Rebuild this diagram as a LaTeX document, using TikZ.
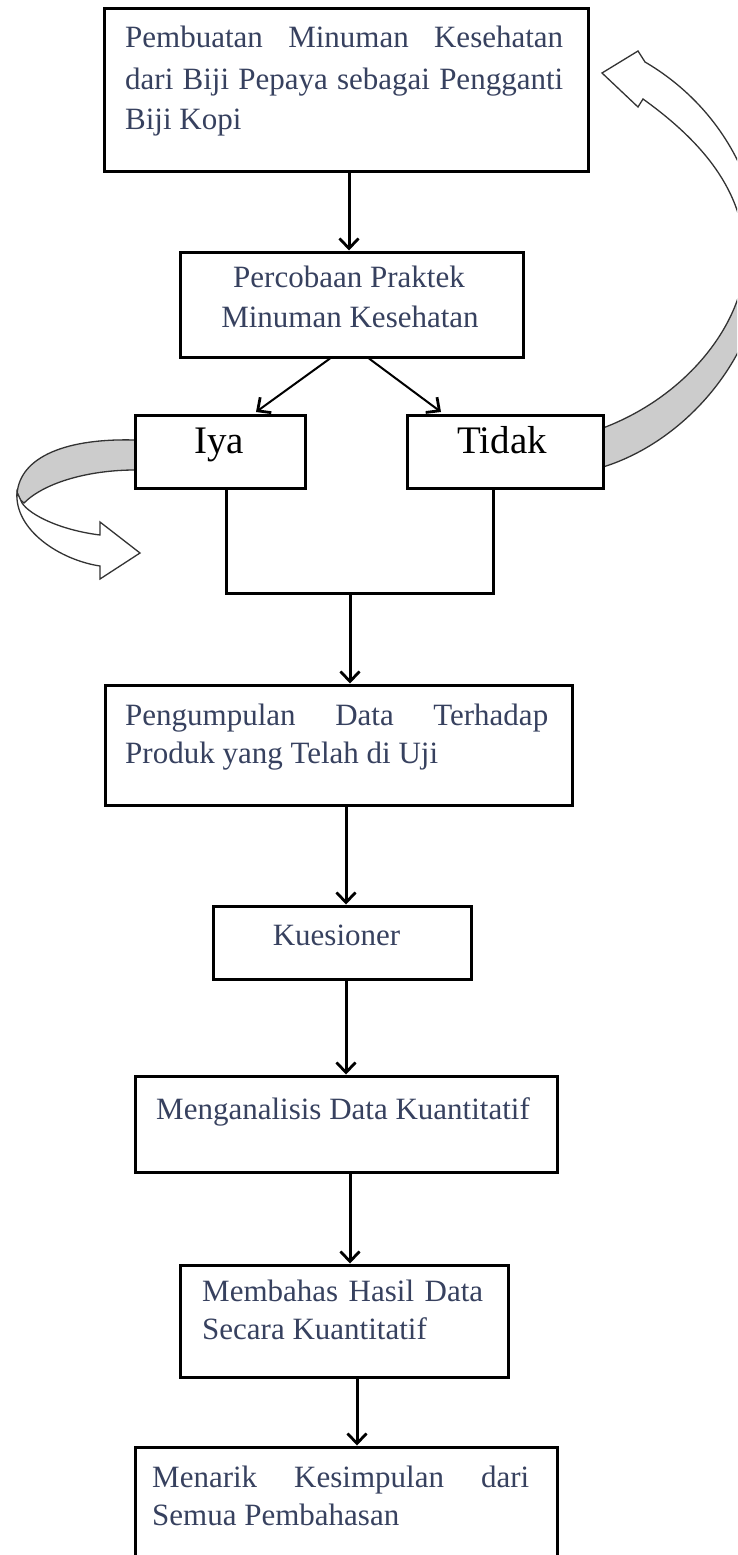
\documentclass[tikz,border=0pt]{standalone}
\usepackage{fontspec}
\setmainfont{Liberation Serif}
\usetikzlibrary{arrows.meta}
\definecolor{txt}{RGB}{55,65,95}
\definecolor{band}{RGB}{204,204,204}
\begin{document}
\begin{tikzpicture}[x=1pt,y=-1pt,
  box/.style={draw=black,fill=white,line width=3pt,inner sep=0pt},
  lbl/.style={inner sep=0pt,text=txt,font=\fontsize{31}{37}\selectfont},
  big/.style={inner sep=0pt,text=black,font=\fontsize{39}{45}\selectfont},
  conn/.style={line width=3pt,-{Straight Barb[length=10pt,width=19pt,line width=2.8pt]}},
  diag/.style={line width=2pt,-{Straight Barb[length=10pt,width=19pt,line width=2.8pt]}},
  plain/.style={line width=3pt},
  curl/.style={draw=black!80,line width=1.3pt,line join=miter}]
\useasboundingbox (0,0) rectangle (737,1555);
\fill[white] (0,0) rectangle (737,1555);
\clip (0,0) rectangle (737,1555);

% right curved block arrow
\filldraw[curl,fill=band] (603,428) .. controls (690,395) and (745,320) .. (745,258)
  -- (762,262) .. controls (762,350) and (690,440) .. (603,467) -- cycle;
\filldraw[curl,fill=white] (645,62) .. controls (710,100) and (760,170) .. (762,262)
  -- (745,258) .. controls (745,190) and (700,140) .. (643,99)
  -- (638,107) -- (602,73) -- (638,51) -- cycle;

% left curved block arrow
\filldraw[curl,fill=band] (135,440) .. controls (60,438) and (17,460) .. (17,497)
  -- (24,503) .. controls (45,482) and (90,470) .. (135,470) -- cycle;
\filldraw[curl,fill=white] (17,492) .. controls (14,530) and (60,560) .. (100,566)
  -- (100,579) -- (140,553) -- (100,522) -- (100,535)
  .. controls (60,530) and (30,515) .. (22,503) -- cycle;

% boxes
\node[box,minimum width=484pt,minimum height=162pt] (b1) at (346,90) {};
\node[box,minimum width=343pt,minimum height=105pt] (b2) at (351.5,304.5) {};
\node[box,minimum width=170pt,minimum height=73pt] (iya) at (220,451.5) {};
\node[box,minimum width=196pt,minimum height=73pt] (tidak) at (505,451.5) {};
\node[box,minimum width=467pt,minimum height=120pt] (b3) at (338.5,745) {};
\node[box,minimum width=258pt,minimum height=73pt] (b4) at (342,942.5) {};
\node[box,minimum width=422pt,minimum height=96pt] (b5) at (346,1124) {};
\node[box,minimum width=328pt,minimum height=112pt] (b6) at (344,1321) {};
\node[box,minimum width=422pt,minimum height=153pt] (b7) at (346,1523.5) {};

% texts
\node[lbl,anchor=base west] (t1a) at (125,48) {\makebox[438pt][s]{Pembuatan Minuman Kesehatan}};
\node[lbl,anchor=base west] (t1b) at (125,89) {\makebox[438pt][s]{dari Biji Pepaya sebagai Pengganti}};
\node[lbl,anchor=base west] (t1c) at (125,129) {Biji Kopi};
\node[lbl,anchor=base] (t2a) at (349,287) {Percobaan Praktek};
\node[lbl,anchor=base] (t2b) at (350,327) {Minuman Kesehatan};
\node[big,anchor=base] (tiya) at (219,453) {Iya};
\node[big,anchor=base] (ttidak) at (502,453) {Tidak};
\node[lbl,anchor=base west] (t3a) at (125,725) {\makebox[423pt][s]{Pengumpulan Data Terhadap}};
\node[lbl,anchor=base west] (t3b) at (125,763) {Produk yang Telah di Uji};
\node[lbl,anchor=base] (t4) at (336.5,945) {Kuesioner};
\node[lbl,anchor=base west] (t5) at (156,1119) {Menganalisis Data Kuantitatif};
\node[lbl,anchor=base west] (t6a) at (202,1301) {\makebox[281pt][s]{Membahas Hasil Data}};
\node[lbl,anchor=base west] (t6b) at (202,1339) {Secara Kuantitatif};
\node[lbl,anchor=base west] (t7a) at (152,1487) {\makebox[377pt][s]{Menarik Kesimpulan dari}};
\node[lbl,anchor=base west] (t7b) at (152,1525) {Semua Pembahasan};

% connectors
\coordinate (iyatip) at (256,412);
\coordinate (tidaktip) at (441,412);
\draw[diag] (b2.south -| 330,0) -- (iyatip);
\draw[diag] (b2.south -| 369,0) -- (tidaktip);
\coordinate (jl) at (226,593);
\coordinate (jr) at (493,593);
\coordinate (jm) at (350,593);
\draw[plain,line join=miter] (iya.south -| jl) -- (jl) -- (jr) -- (tidak.south -| jr);
\draw[conn] (jm) -- (b3.north -| jm);
\draw[conn] (b1.south -| 349,0) -- (b2.north -| 349,0);
\draw[conn] (b3.south -| 346,0) -- (b4.north -| 346,0);
\draw[conn] (b4.south -| 346,0) -- (b5.north -| 346,0);
\draw[conn] (b5.south -| 350,0) -- (b6.north -| 350,0);
\draw[conn] (b6.south -| 357,0) -- (b7.north -| 357,0);
\end{tikzpicture}
\end{document}
